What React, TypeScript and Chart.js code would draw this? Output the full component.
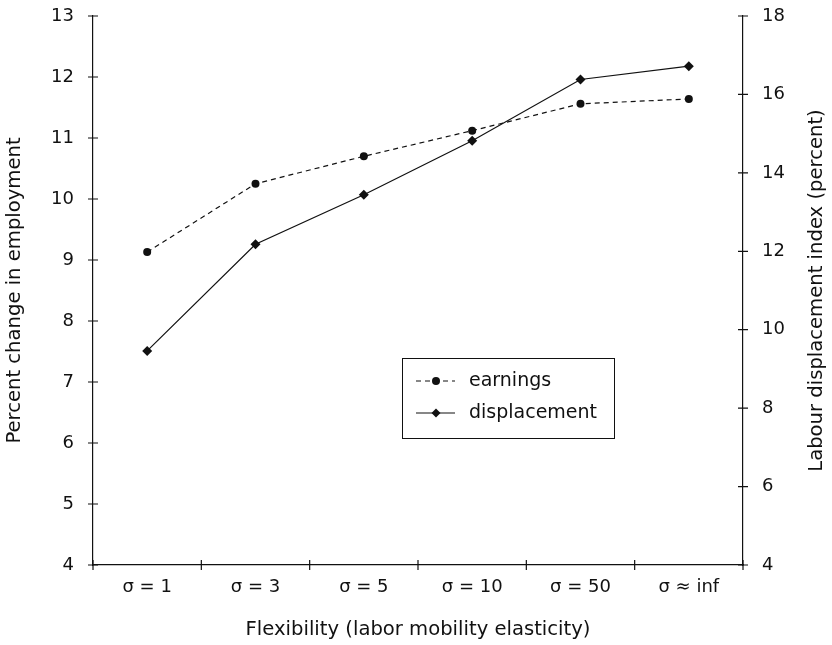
import React, { useEffect, useRef } from "react";
import { Chart, registerables } from "chart.js";

Chart.register(...registerables);

const categories = ["σ = 1", "σ = 3", "σ = 5", "σ = 10", "σ = 50", "σ ≈ inf"];
const earnings = [9.13, 10.25, 10.7, 11.12, 11.56, 11.64];
const displacement = [9.46, 12.18, 13.44, 14.82, 16.38, 16.72];
const seriesNames = ["earnings", "displacement"];
const leftTitle = "Percent change in employment";
const rightTitle = "Labour displacement index (percent)";
const xTitle = "Flexibility (labor mobility elasticity)";

const FONT = "'DejaVu Sans', 'Open Sans', sans-serif";
const INK = "#111";
const FS = 18;
const TFS = 19.6;
const LFS = 19;

const crossTicks = {
  id: "crossTicks",
  afterDraw(chart: any) {
    const ctx = chart.ctx;
    const { yL, yR } = chart.scales;
    const area = chart.chartArea;
    ctx.save();
    ctx.strokeStyle = INK;
    ctx.lineWidth = 1.2;
    ctx.beginPath();
    yL.ticks.forEach((t: any) => {
      const py = yL.getPixelForValue(t.value);
      ctx.moveTo(area.left - 5, py);
      ctx.lineTo(area.left + 5, py);
    });
    yR.ticks.forEach((t: any) => {
      const py = yR.getPixelForValue(t.value);
      ctx.moveTo(area.right - 5, py);
      ctx.lineTo(area.right + 5, py);
    });
    const n = categories.length;
    for (let i = 0; i <= n; i++) {
      const px = area.left + (i * (area.right - area.left)) / n;
      ctx.moveTo(px, area.bottom - 5);
      ctx.lineTo(px, area.bottom + 5);
    }
    ctx.stroke();

    // right title (rotated, reading bottom to top)
    ctx.fillStyle = INK;
    ctx.font = `${TFS}px ${FONT}`;
    ctx.textAlign = "center";
    ctx.textBaseline = "middle";
    ctx.translate(chart.width - 15, (area.top + area.bottom) / 2);
    ctx.rotate(-Math.PI / 2);
    ctx.fillText(rightTitle, 0, 0);
    ctx.restore();

    // legend
    ctx.save();
    const bx = 402, by = 358, bw = 212, bh = 80;
    ctx.fillStyle = "#fff";
    ctx.fillRect(bx, by, bw, bh);
    ctx.strokeStyle = INK;
    ctx.lineWidth = 1;
    ctx.strokeRect(bx + 0.5, by + 0.5, bw, bh);
    const rows = [
      { y: 381, dash: [5, 4], style: "circle" },
      { y: 413, dash: [], style: "diamond" },
    ];
    rows.forEach((r, i) => {
      ctx.setLineDash(r.dash);
      ctx.lineWidth = 1.2;
      ctx.beginPath();
      ctx.moveTo(416, r.y);
      ctx.lineTo(455, r.y);
      ctx.stroke();
      ctx.setLineDash([]);
      ctx.fillStyle = INK;
      ctx.beginPath();
      if (r.style === "circle") {
        ctx.arc(436, r.y, 4, 0, Math.PI * 2);
      } else {
        ctx.moveTo(436, r.y - 4.5);
        ctx.lineTo(440.5, r.y);
        ctx.lineTo(436, r.y + 4.5);
        ctx.lineTo(431.5, r.y);
        ctx.closePath();
      }
      ctx.fill();
      ctx.font = `${LFS}px ${FONT}`;
      ctx.textAlign = "left";
      ctx.textBaseline = "middle";
      ctx.fillText(seriesNames[i], 469, r.y);
    });
    ctx.restore();
  },
};

export default function App() {
  const ref = useRef<HTMLCanvasElement>(null);
  useEffect(() => {
    document.body.style.margin = "0";
    const chart = new Chart(ref.current as HTMLCanvasElement, {
      type: "line",
      data: {
        labels: categories,
        datasets: [
          {
            label: seriesNames[0],
            data: earnings,
            yAxisID: "yL",
            borderColor: INK,
            backgroundColor: INK,
            borderWidth: 1.2,
            borderDash: [5, 4],
            pointStyle: "circle",
            pointRadius: 4,
            pointBorderWidth: 0,
            tension: 0,
          },
          {
            label: seriesNames[1],
            data: displacement,
            yAxisID: "yR",
            borderColor: INK,
            backgroundColor: INK,
            borderWidth: 1.2,
            pointStyle: "rectRot",
            pointRadius: 5,
            pointBorderWidth: 0,
            tension: 0,
          },
        ],
      },
      options: {
        responsive: false,
        animation: false,
        devicePixelRatio: 1,
        layout: { padding: { top: 16, left: 0, right: 0, bottom: 0 } },
        plugins: { legend: { display: false }, tooltip: { enabled: false } },
        scales: {
          x: {
            type: "category",
            offset: true,
            grid: { display: false, drawTicks: false },
            border: { display: true, color: INK, width: 1.2 },
            ticks: { color: INK, font: { family: FONT, size: FS }, padding: 12, maxRotation: 0 },
            title: { display: true, text: xTitle, color: INK, font: { family: FONT, size: TFS }, padding: { top: 4, bottom: 3 } },
            afterFit: (s: any) => { s.height = 80; s.paddingLeft = 0; s.paddingRight = 0; },
          },
          yL: {
            type: "linear",
            position: "left",
            min: 4,
            max: 13,
            ticks: { stepSize: 1, color: INK, font: { family: FONT, size: FS }, padding: 19 },
            grid: { display: false, drawTicks: false },
            border: { display: true, color: INK, width: 1.2 },
            title: { display: true, text: leftTitle, color: INK, font: { family: FONT, size: TFS }, padding: { top: 3, bottom: 4 } },
            afterFit: (s: any) => { s.width = 93; s.paddingTop = 0; s.paddingBottom = 0; },
          },
          yR: {
            type: "linear",
            position: "right",
            min: 4,
            max: 18,
            ticks: { stepSize: 2, color: INK, font: { family: FONT, size: FS }, padding: 19 },
            grid: { display: false, drawTicks: false },
            border: { display: true, color: INK, width: 1.2 },
            afterFit: (s: any) => { s.width = 89; s.paddingTop = 0; s.paddingBottom = 0; },
          },
        },
      },
      plugins: [crossTicks],
    } as any);
    return () => chart.destroy();
  }, []);
  return (
    <div style={{ position: "absolute", left: 0, top: 0, width: 832, height: 645 }}>
      <canvas ref={ref} width={832} height={645} />
    </div>
  );
}
